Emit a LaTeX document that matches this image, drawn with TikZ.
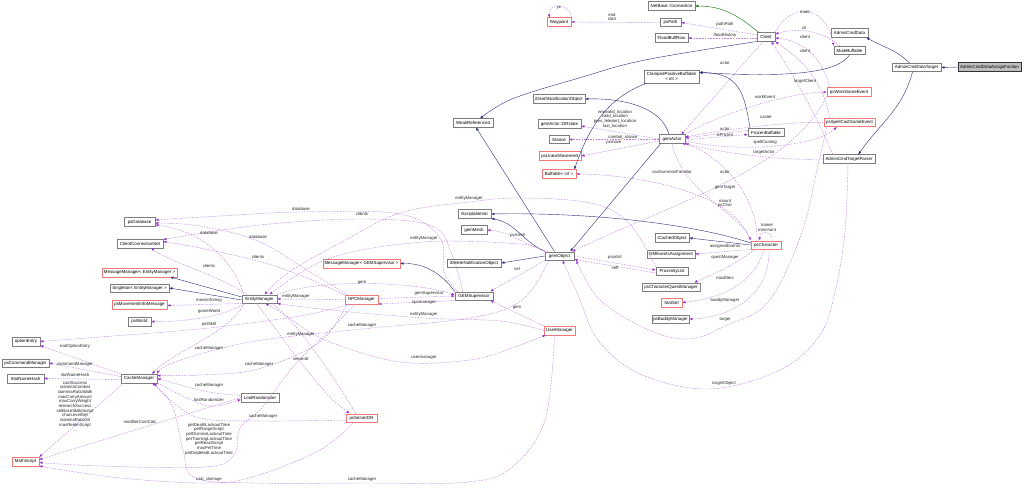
\documentclass[tikz,border=0pt]{standalone}
\usepackage{fontspec}
\setmainfont{Liberation Sans}
\usetikzlibrary{arrows.meta}
\definecolor{inhc}{RGB}{45,45,125}
\definecolor{usec}{RGB}{154,50,205}
\definecolor{usel}{RGB}{190,130,228}
\definecolor{grnc}{RGB}{0,110,0}
\definecolor{bordc}{RGB}{125,125,125}
\definecolor{redc}{RGB}{245,120,120}
\definecolor{rootc}{RGB}{191,191,191}
\tikzset{
  cls/.style={draw=bordc, line width=0.5pt, fill=white, minimum height=8.5pt, inner xsep=1pt, inner ysep=0.5pt, font=\fontsize{4.4}{5}\selectfont},
  redcls/.style={cls, draw=redc},
  rootcls/.style={cls, draw=black!80, fill=rootc},
  lbl/.style={font=\fontsize{4.3}{4.7}\selectfont, inner sep=0pt, align=center, text=black!85},
  inh/.style={draw=inhc, line width=0.4pt, -{Latex[length=3.2pt,width=2.6pt]}},
  grn/.style={inh, draw=grnc},
  use/.style={draw=usel, line width=0.42pt, dash pattern=on 1.6pt off 1.2pt, -{Latex[length=3.2pt,width=2.6pt,color=usec]}}
}
\begin{document}
\begin{tikzpicture}[x=1pt,y=-1pt]
\fill[white] (0,0) rectangle (1024,494);
\useasboundingbox (0,0) rectangle (1024,494);

% nodes
\node[cls, minimum width=47] (netconn) at (671.5,6) {NetBase::Connection};
\node[redcls, minimum width=24] (waypoint) at (559,22) {Waypoint};
\node[cls, minimum width=21] (pspath) at (670.5,22.5) {psPath};
\node[cls, minimum width=33] (flood) at (671.5,38) {FloodBuffRow};
\node[cls, minimum width=18] (client) at (766,37) {Client};
\node[cls, minimum width=37] (admindata) at (849.5,33) {AdminCmdData};
\node[cls, minimum width=31] (mute) at (849.5,50.5) {MuteBuffable};
\node[cls, minimum width=49] (target) at (916.5,67.5) {AdminCmdDataTarget};
\node[rootcls, minimum width=63] (assign) at (989.5,67) {AdminCmdDataAssignFaction};
\node[redcls, minimum width=44] (workev) at (849,92) {psWorkGameEvent};
\node[redcls, minimum width=51] (spellev) at (849.5,122.5) {psSpellCastGameEvent};
\node[cls, minimum width=52] (parser) at (849,159) {AdminCmdTargetParser};
\node[cls, minimum width=36] (frozen) at (766,132.5) {FrozenBuffable};
\node[cls, minimum width=55, minimum height=13, align=center] (clamped) at (671.5,76.5) {ClampedPositiveBuffable\\{}< int >};
\node[cls, minimum width=52] (ideath) at (559,99) {iDeathNotificationObject};
\node[cls, minimum width=43] (drstate) at (559.5,124) {gemActor::DRstate};
\node[cls, minimum width=20] (stance) at (559,139.5) {Stance};
\node[redcls, minimum width=42] (linmove) at (560,156) {psLinearMovement};
\node[cls, minimum width=26] (gemactor) at (672,139) {gemActor};
\node[cls, minimum width=40] (weakref) at (473,123) {WeakReferenced};
\node[redcls, minimum width=34] (buffable) at (559,174) {Buffable< int >};
\node[cls, minimum width=31] (psdb) at (139.5,222) {psDatabase};
\node[cls, minimum width=46] (ccset) at (140,243.5) {ClientConnectionSet};
\node[redcls, minimum width=75] (mmem) at (139.5,272.5) {MessageManager< EntityManager >};
\node[cls, minimum width=59] (singleton) at (139.5,288) {Singleton< EntityManager >};
\node[redcls, minimum width=55] (movemsg) at (139.5,304.5) {psMovementInfoMessage};
\node[cls, minimum width=23] (psworld) at (139.5,321.5) {psWorld};
\node[cls, minimum width=35] (entmgr) at (259.5,299) {EntityManager};
\node[cls, minimum width=33] (iscript) at (474.5,214) {iScriptableVar};
\node[cls, minimum width=26] (gemmesh) at (474,230) {gemMesh};
\node[cls, minimum width=54] (idelete) at (474,263) {iDeleteNotificationObject};
\node[redcls, minimum width=77] (mmgem) at (361.5,263.5) {MessageManager< GEMSupervisor >};
\node[cls, minimum width=38] (gemsup) at (474,296) {GEMSupervisor};
\node[redcls, minimum width=33] (npcmgr) at (361.5,299.5) {NPCManager};
\node[cls, minimum width=29] (gemobj) at (559.5,256) {gemObject};
\node[cls, minimum width=34] (icached) at (672,238) {iCachedObject};
\node[cls, minimum width=48] (gmevents) at (671,254) {GMEventsAssignment};
\node[cls, minimum width=32] (proxlist) at (672,271) {ProximityList};
\node[cls, minimum width=58] (questmgr) at (671,287) {psCharacterQuestManager};
\node[redcls, minimum width=21] (statset) at (671.5,302.5) {StatSet};
\node[cls, minimum width=37] (buddymgr) at (670.5,319) {psBuddyManager};
\node[redcls, minimum width=30] (pschar) at (766,245) {psCharacter};
\node[redcls, minimum width=31] (usermgr) at (559.5,330.5) {UserManager};
\node[cls, minimum width=28] (optentry) at (26,341.5) {optionEntry};
\node[cls, minimum width=47] (cmdmgr) at (25.5,363) {psCommandManager};
\node[cls, minimum width=37] (statnh) at (25.5,378.5) {StatNameHash};
\node[cls, minimum width=36] (cachemgr) at (139,378.5) {CacheManager};
\node[redcls, minimum width=27] (mathscript) at (25.5,461.5) {MathScript};
\node[cls, minimum width=38] (lootrand) at (260,397.5) {LootRandomizer};
\node[redcls, minimum width=31] (serverdr) at (361.5,418) {psServerDR};

% inheritance
\draw[inh] (assign.west) -- (target.east);
\draw[inh] ([xshift=-7]target.north) to[out=135,in=-30] ([xshift=-2]admindata.south east);
\draw[inh] ([xshift=-4]target.south) to[out=-105,in=55] ([xshift=-17]parser.north east);
\draw[grn] ([xshift=2]client.north west) to[out=140,in=0] (netconn.east);
\draw[inh] plot[smooth,tension=0.6] coordinates {(client.south west) (645,60) (579,78) (512,99) ([xshift=7]weakref.north)};
\draw[inh] ([xshift=-5]gemobj.north) -- ([xshift=3]weakref.south);
\draw[inh] (mute.south) .. controls (838,72) and (795,78) .. ([yshift=4]clamped.east);
\draw[inh] ([xshift=-16]frozen.north) .. controls (744,90) and (738,73) .. ([yshift=4]clamped.east);
\draw[inh] ([xshift=3]clamped.south west) .. controls (600,100) and (585,140) .. ([xshift=-2]buffable.north east);
\draw[inh] ([xshift=-3]gemactor.north) .. controls (662,108) and (625,98) .. (ideath.east);
\draw[inh] ([xshift=2]gemactor.south west) -- ([xshift=-4]gemobj.north east);
\draw[inh] ([yshift=2]pschar.west) .. controls (700,226) and (600,212) .. (iscript.east);
\draw[inh] (gemobj.north west) to[out=155,in=-10] (iscript.south east);
\draw[inh] (pschar.west) -- (icached.east);
\draw[inh] (gemobj.west) -- (idelete.east);
\draw[inh] (gemsup.north west) .. controls (442,274) and (425,263) .. (mmgem.east);
\draw[inh] ([yshift=2]entmgr.west) -- ([xshift=-7]mmem.south east);
\draw[inh] ([yshift=-1]entmgr.west) -- (singleton.east);

% usage - top
\draw[use] (waypoint.north east) .. controls (572,3) and (546,3) .. ([xshift=3]waypoint.north west);
\draw[use] (pspath.west) -- (waypoint.east);
\draw[use] ([yshift=2]client.west) -- (pspath.east);
\draw[use] ([yshift=-1]client.west) -- (flood.east);
\draw[use] (client.north east) .. controls (790,2) and (826,4) .. (mute.north west);
\draw[use] ([xshift=6]mute.north west) .. controls (818,27) and (792,29) .. ([yshift=3]client.east);
\draw[use] ([xshift=3]workev.north west) .. controls (822,55) and (800,40) .. ([yshift=-1]client.east);
\draw[use] ([xshift=6]spellev.north west) .. controls (822,75) and (795,55) .. (client.south east);
\draw[use] ([xshift=10]parser.north west) .. controls (812,105) and (785,62) .. ([xshift=-4]client.south east);
\draw[use] ([xshift=-3]client.south) -- ([xshift=-4]gemactor.north east);
\draw[use] (gemactor.north east) .. controls (722,112) and (790,93) .. (workev.west);
\draw[use] (spellev.west) .. controls (790,121) and (722,130) .. ([yshift=2]gemactor.east);
\draw[use] ([yshift=2]frozen.west) -- ([yshift=1]gemactor.east);
\draw[use] ([yshift=-1]gemactor.east) -- ([yshift=-2]frozen.west);
\draw[use] ([yshift=-2]gemactor.east) .. controls (740,153) and (815,147) .. ([xshift=13]spellev.south west);
\draw[use] (parser.west) .. controls (782,161) and (722,153) .. (gemactor.south east);
\draw[use] (gemactor.west) -- ([yshift=-2]drstate.east);
\draw[use] ([yshift=-0.5]gemactor.west) -- (stance.east);
\draw[use] ([yshift=-2]gemactor.west) -- (linmove.east);

% usage - psCharacter
\draw[use] ([xshift=-9]pschar.north) .. controls (758,190) and (712,150) .. ([xshift=-3]gemactor.south east);
\draw[use] (gemactor.south) .. controls (682,192) and (738,212) .. (pschar.north west);
\draw[use] (workev.south west) .. controls (790,170) and (680,200) .. ([xshift=-2]gemobj.north east);
\draw[use] ([xshift=6]pschar.north) .. controls ([xshift=8,yshift=10]pschar.north) and ([xshift=-8,yshift=10]pschar.north) .. ([xshift=-6]pschar.north);
\draw[use] ([yshift=-2]pschar.north west) .. controls (740,195) and (645,175) .. (buffable.east);
\draw[use] (pschar.south west) -- (gmevents.east);
\draw[use] ([xshift=4]pschar.south west) .. controls (735,265) and (712,275) .. ([xshift=-6]questmgr.north east);
\draw[use] ([xshift=-2]pschar.south) .. controls (752,292) and (705,300) .. (statset.east);
\draw[use] ([xshift=3]pschar.south) .. controls (770,302) and (722,318) .. (buddymgr.east);
\draw[use] plot[smooth,tension=0.6] coordinates {([xshift=3]spellev.south west) (818,165) (801,235) (768,302) (725,326) (689,339) (649,330) (600,300) ([xshift=2]gemobj.south east)};
\draw[use] plot[smooth,tension=0.6] coordinates {([xshift=-1]parser.south) (845,232) (835,292) (820,335) (780,370) (709,389) (640,374) (598,340) (578,295) ([xshift=3]gemobj.south)};

% usage - gemObject / supervisors
\draw[use] (gemobj.east) -- ([yshift=1]proxlist.west);
\draw[use] ([yshift=-2]proxlist.west) -- ([yshift=1]gemobj.south east);
\draw[use] ([xshift=3]gemobj.north west) to[out=165,in=-5] (gemmesh.east);
\draw[use] (gemobj.south west) -- ([xshift=-3]gemsup.north east);
\draw[use] (usermgr.north west) -- ([xshift=-3]gemsup.south east);
\draw[use] (entmgr.north east) .. controls (320,278) and (420,282) .. ([yshift=1]gemsup.west);
\draw[use] ([yshift=1]npcmgr.east) -- (gemsup.west);
\draw[use] (gemsup.south west) -- (npcmgr.south east);
\draw[use] (npcmgr.west) -- (entmgr.east);
\draw[use] plot[smooth,tension=0.6] coordinates {(proxlist.north west) (628,222) (590,203) (520,198) (469,202) (400,213) (340,243) (289,272) ([xshift=5]entmgr.north)};
\draw[use] plot[smooth,tension=0.6] coordinates {(gemobj.north west) (520,244) (424,242) (330,258) ([xshift=10]entmgr.north)};
\draw[use] plot[smooth,tension=0.6] coordinates {(usermgr.west) (500,321) (424,318) (330,310) (entmgr.south east)};
\draw[use] plot[smooth,tension=0.6] coordinates {([xshift=10]serverdr.north west) (338,385) (305,338) (285,316) ([xshift=6]entmgr.south)};
\draw[use] plot[smooth,tension=0.6] coordinates {([xshift=-3]entmgr.south) (275,328) (301,363) (330,397) ([xshift=4]serverdr.north west)};
\draw[use] plot[smooth,tension=0.6] coordinates {([xshift=-5]entmgr.south east) (295,322) (330,342) (400,362) (470,360) (512,348) ([xshift=2]usermgr.south west)};

% usage - database / clients
\draw[use] ([xshift=2]entmgr.north west) .. controls (232,258) and (200,230) .. ([yshift=-3]psdb.east);
\draw[use] plot[smooth,tension=0.6] coordinates {([xshift=3]npcmgr.north west) (310,272) (258,241) (200,226) ([yshift=-1]psdb.east)};
\draw[use] plot[smooth,tension=0.6] coordinates {([xshift=3]gemsup.north west) (444,272) (440,238) (400,214) (301,212) (220,216) ([yshift=2]psdb.east)};
\draw[use] ([xshift=5]entmgr.north west) .. controls (225,278) and (170,262) .. ([xshift=11]ccset.south);
\draw[use] plot[smooth,tension=0.6] coordinates {(npcmgr.north west) (300,275) (258,261) (200,248) ([yshift=2]ccset.east)};
\draw[use] plot[smooth,tension=0.6] coordinates {([xshift=8]gemsup.north west) (452,255) (432,226) (362,219) (260,225) ([yshift=4]ccset.east)};
\draw[use] (entmgr.south west) -- ([yshift=-1]movemsg.east);
\draw[use] ([xshift=3]entmgr.south west) .. controls (222,318) and (180,322) .. (psworld.east);
\draw[use] plot[smooth,tension=0.6] coordinates {([xshift=5]npcmgr.south west) (305,315) (209,328) (100,337) (optentry.east)};

% usage - CacheManager area
\draw[use] (cachemgr.north west) -- ([yshift=-4]optentry.east);
\draw[use] ([yshift=2]cachemgr.west) -- (cmdmgr.east);
\draw[use] ([yshift=-1]cachemgr.west) -- (statnh.east);
\draw[use] ([xshift=3]cachemgr.south west) -- (mathscript.north east);
\draw[use] (lootrand.west) -- ([yshift=2]mathscript.east);
\draw[use] plot[smooth,tension=0.6] coordinates {([xshift=-6]npcmgr.south) (330,330) (292,368) (262,408) (240,428) (234,455) (205,467) (100,466) ([yshift=-1]mathscript.east)};
\draw[use] plot[smooth,tension=0.6] coordinates {([xshift=-8]serverdr.south) (320,450) (256,476) (209,483) (120,478) (mathscript.south east)};
\draw[use] plot[smooth,tension=0.6] coordinates {([xshift=-5]usermgr.south) (545,420) (512,467) (469,482) (362,483) (256,483) (195,478) (183,450) (172,405) ([xshift=13]cachemgr.south)};
\draw[use] ([xshift=2]entmgr.south west) .. controls (232,332) and (172,352) .. ([xshift=13]cachemgr.north);
\draw[use] plot[smooth,tension=0.6] coordinates {([xshift=2]npcmgr.south west) (320,342) (258,369) (200,375) ([yshift=3]cachemgr.east)};
\draw[use] plot[smooth,tension=0.6] coordinates {([xshift=4]gemobj.south west) (522,300) (470,318) (362,329) (250,342) (175,362) (cachemgr.north east)};
\draw[use] ([yshift=2]lootrand.west) .. controls (209,393) .. (cachemgr.east);
\draw[use] (cachemgr.south east) .. controls (209,410) .. ([yshift=-2]lootrand.west);
\draw[use] plot[smooth,tension=0.6] coordinates {([yshift=-2]serverdr.west) (263,421) (200,418) (168,398) ([xshift=-3]cachemgr.south east)};

% labels
\node[lbl] (l01) at (559,7) {pi};
\node[lbl] (l02) at (612,17) {end\\start};
\node[lbl] (l03) at (725,24) {pathPath};
\node[lbl] (l04) at (725,35) {floodHistory};
\node[lbl] (l05) at (805,12) {mute};
\node[lbl] (l06) at (804,28) {cli};
\node[lbl] (l07) at (805,37) {client};
\node[lbl] (l08) at (805,51) {client};
\node[lbl] (l09) at (725,63) {actor};
\node[lbl] (l10) at (805,81) {targetClient};
\node[lbl] (l11) at (765,97) {workEvent};
\node[lbl] (l12) at (766,117) {caster};
\node[lbl] (l13) at (725,129) {actor};
\node[lbl] (l14) at (725,135) {isFrozen};
\node[lbl] (l15) at (765,142) {spellCasting};
\node[lbl] (l16) at (764,152) {targetActor};
\node[lbl] (l17) at (615,119) {newvalid\_location\\valid\_location\\prev\_teleport\_location\\last\_location};
\node[lbl] (l18) at (623,137) {combat\_stance};
\node[lbl] (l19) at (614,143) {pcmove};
\node[lbl] (l20) at (672,172) {canSummonFamiliar};
\node[lbl] (l21) at (725,172) {actor};
\node[lbl] (l22) at (725,187) {gemTarget};
\node[lbl] (l23) at (725,203.5) {mount\\psChar};
\node[lbl] (l24) at (767,227.5) {trainer\\merchant};
\node[lbl] (l25) at (725,246) {assignedEvents};
\node[lbl] (l26) at (725,257) {questManager};
\node[lbl] (l27) at (725,278) {modifiers};
\node[lbl] (l28) at (725,300) {buddyManager};
\node[lbl] (l29) at (725,320) {target};
\node[lbl] (l30) at (724,383) {targetObject};
\node[lbl] (l31) at (615,257) {proxlist};
\node[lbl] (l32) at (615,268) {self};
\node[lbl] (l33) at (518,235) {pcmesh};
\node[lbl] (l34) at (517,269) {cel};
\node[lbl] (l35) at (517,308) {gem};
\node[lbl] (l36) at (469,198) {entityManager};
\node[lbl] (l37) at (424,238) {entityManager};
\node[lbl] (l38) at (424,314) {entityManager};
\node[lbl] (l39) at (296,296) {entityManager};
\node[lbl] (l40) at (301,334) {entityManager};
\node[lbl] (l41) at (429,293) {gemSupervisor};
\node[lbl] (l42) at (424,302.5) {npcmanager};
\node[lbl] (l43) at (362,283) {gem};
\node[lbl] (l44) at (362,325) {cacheManager};
\node[lbl] (l45) at (301,209) {database};
\node[lbl] (l46) at (362,214) {clients};
\node[lbl] (l47) at (258,237) {database};
\node[lbl] (l48) at (258,257) {clients};
\node[lbl] (l49) at (209,233) {database};
\node[lbl] (l50) at (209,266) {clients};
\node[lbl] (l51) at (209,300.5) {moveinfomsg};
\node[lbl] (l52) at (209,311) {gameWorld};
\node[lbl] (l53) at (209,324) {petSkill};
\node[lbl] (l54) at (301,359) {serverdr};
\node[lbl] (l55) at (424,358) {usermanager};
\node[lbl] (l56) at (209,348) {cacheManager};
\node[lbl] (l57) at (259,364) {cacheManager};
\node[lbl] (l58) at (209,385) {cacheManager};
\node[lbl] (l59) at (209,400) {lootRandomizer};
\node[lbl] (l60) at (263,416) {cacheManager};
\node[lbl] (l61) at (75,346) {rootOptionEntry};
\node[lbl] (l62) at (75,364) {commandManager};
\node[lbl] (l63) at (75,374.5) {statNameHash};
\node[lbl] (l64) at (75,406) {castSuccess\\staminaCombat\\staminaRatioWalk\\maxCarryAmount\\maxCarryWeight\\researchSuccess\\setBaseSkillsScript\\charLevelGet\\staminaRatioSit\\maxRealmScript\\...};
\node[lbl] (l65) at (140,422) {modifierCostCalc};
\node[lbl] (l66) at (209,439) {petDeathLockoutTime\\petRangeScript\\petDismissLockoutTime\\petTrainingLockoutTime\\petReactScript\\maxPetTime\\petDepletedLockoutTime};
\node[lbl] (l67) at (209,479) {calc\_damage};
\node[lbl] (l68) at (362,479) {cacheManager};
\end{tikzpicture}
\end{document}
